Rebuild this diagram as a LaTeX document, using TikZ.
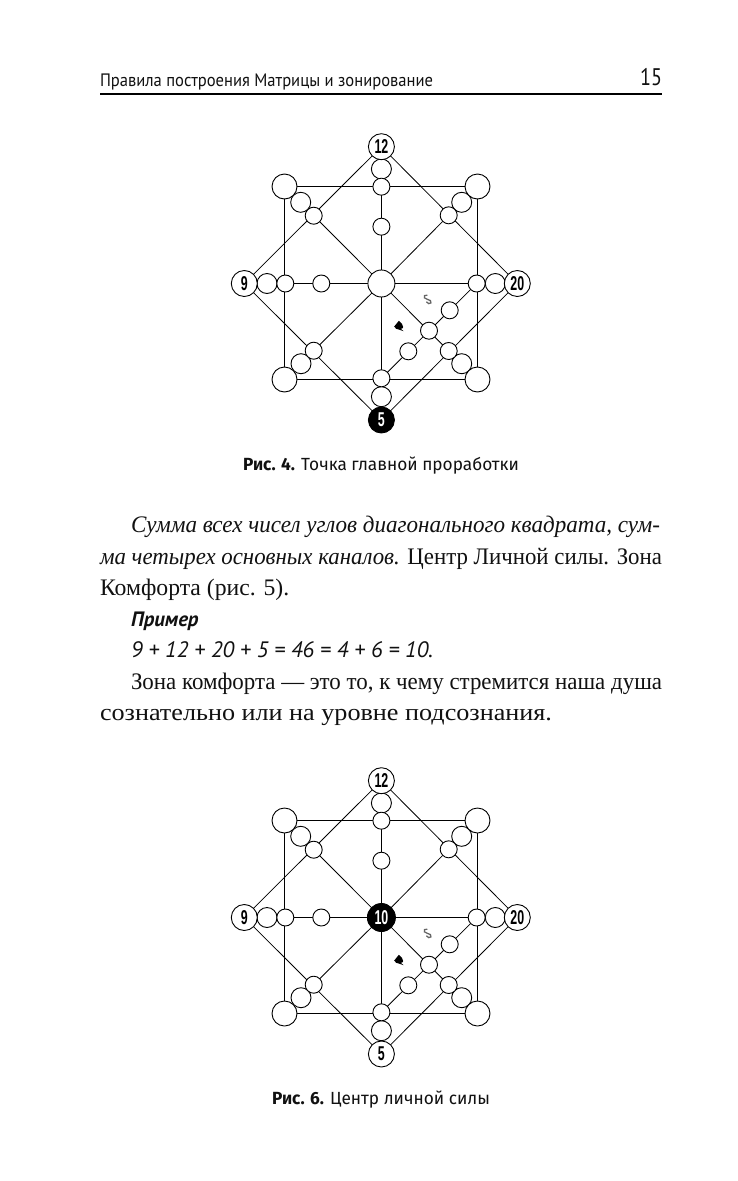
\documentclass[tikz,border=0pt]{standalone}
\usepackage{fontspec}
\setmainfont{Liberation Serif}
\newfontfamily\ptsans{PT Sans}
\newfontfamily\firasans{Fira Sans}
\newfontfamily\digitfont{Liberation Sans}
\usetikzlibrary{backgrounds}
\definecolor{inkc}{HTML}{111111}
\tikzset{
  txt/.style={anchor=base west,inner sep=0pt,outer sep=0pt,text=inkc},
  bodyt/.style={txt,font=\fontsize{23.7}{28}\selectfont},
  bodyi/.style={txt,font=\fontsize{23.7}{28}\selectfont\itshape},
  hdr/.style={txt,font=\ptsans\fontsize{18}{20}\selectfont},
  capt/.style={txt,font=\firasans\fontsize{17.6}{20}\selectfont},
  disc/.style={circle,draw=black,fill=white,line width=0.9pt,inner sep=0pt,outer sep=0pt},
  big/.style={disc,minimum size=26pt,font=\digitfont\bfseries\fontsize{20}{20}\selectfont},
  bigblack/.style={big,fill=black,text=white},
  corner/.style={disc,minimum size=25pt},
  hub/.style={disc,minimum size=27pt},
  mid/.style={disc,minimum size=20pt},
  small/.style={disc,minimum size=17pt},
  heavy/.style={line width=1.05pt,draw=black},
  thin/.style={line width=0.8pt,draw=black},
}
\newcommand{\cnum}[1]{\scalebox{0.62}[1]{#1}}
% #1 prefix, #2 vertical offset, #3 centre style, #4 centre label, #5 bottom style
\newcommand{\matrixfig}[5]{%
\begin{scope}[shift={(0,#2)}]
  \node[mid] (#1tA) at (381.4,169) {};
  \node[mid] (#1bA) at (381.4,396.7) {};
  \node[mid] (#1lA) at (267,283.5) {};
  \node[mid] (#1rA) at (495.3,283.5) {};
  \node[mid] (#1dA) at (300.7,202.3) {};
  \node[mid] (#1dB) at (461.7,202.3) {};
  \node[mid] (#1dC) at (301,363.7) {};
  \node[mid] (#1dD) at (461.7,363.7) {};
  \node[corner] (#1cA) at (284.5,186.5) {};
  \node[corner] (#1cB) at (477.5,186.5) {};
  \node[corner] (#1cC) at (284.5,379.5) {};
  \node[corner] (#1cD) at (477.5,379.5) {};
  \node[small] (#1tB) at (381.4,186.7) {};
  \node[small] (#1tC) at (381.4,226.7) {};
  \node[small] (#1bB) at (381.4,378.3) {};
  \node[small] (#1lB) at (285.3,283.5) {};
  \node[small] (#1lC) at (321.3,283.5) {};
  \node[small] (#1rB) at (476.7,283.5) {};
  \node[small] (#1eA) at (313.7,215.7) {};
  \node[small] (#1eB) at (448.7,215.3) {};
  \node[small] (#1eC) at (313.7,350.7) {};
  \node[small] (#1eD) at (448.7,351) {};
  \node[small] (#1iA) at (429,330.7) {};
  \node[small] (#1iB) at (449.7,310.3) {};
  \node[small] (#1iC) at (408.3,351.3) {};
  \node[big] (#1top) at (381.4,146.7) {\cnum{12}};
  \node[big] (#1lft) at (244.3,283.5) {\cnum{9}};
  \node[big] (#1rgt) at (517.3,283.5) {\cnum{20}};
  \node[#5] (#1bot) at (381.4,420) {\cnum{5}};
  \node[#3] (#1hub) at (381.4,283.5) {#4};
  \begin{pgfonlayer}{background}
    \draw[heavy] (#1cA) -- (#1cB) -- (#1cD) -- (#1cC) -- (#1cA);
    \draw[heavy] (#1tB) -- (#1hub) -- (#1bB);
    \draw[heavy] (#1lB) -- (#1hub) -- (#1rB);
    \draw[thin] (#1top) -- (#1lft) -- (#1bot) -- (#1rgt) -- (#1top);
    \draw[thin] (#1hub) -- (#1eA);
    \draw[thin] (#1hub) -- (#1eB);
    \draw[thin] (#1hub) -- (#1eC);
    \draw[thin] (#1hub) -- (#1eD);
    \draw[thin] (#1rB) -- (#1bB);
  \end{pgfonlayer}
  % small spade-like mark
  \fill[black] (394.2,326.5) .. controls (395,324) and (398,323.5) .. (398.8,320.8)
     .. controls (401,322.5) and (403.5,325) .. (403.2,327.2)
     .. controls (403,329) and (401,329) .. (400.4,328.4)
     -- (403.6,331.2) -- (399,329.6) .. controls (397.5,329) and (394.5,329) .. cycle;
  % small curl mark
  \draw[black!60,line width=1.3pt,line cap=round] (427,295.2) .. controls (425,294.6) and (423.4,296) .. (424.4,297.8)
     .. controls (425.4,299.4) and (429,299.2) .. (430.4,300.6)
     .. controls (432,302.2) and (430.6,304) .. (428.8,303.6)
     .. controls (427.8,303.4) and (427,302.8) .. (426.6,302);
\end{scope}}
\begin{document}
\begin{tikzpicture}[x=1pt,y=-1pt]
  \useasboundingbox (0,0) rectangle (738,1181);
  \begin{pgfonlayer}{background}
    \fill[white] (0,0) rectangle (738,1181);
  \end{pgfonlayer}
  % running head
  \node[hdr] (head) at (100,86) {\resizebox{333pt}{\height}{Правила построения Матрицы и зонирование}};
  \node[txt,anchor=base east,font=\ptsans\fontsize{24}{26}\selectfont] (page) at (662,85) {\resizebox{22pt}{\height}{15}};
  \coordinate (ruleL) at (100,94);
  \coordinate (ruleR) at (662,94);
  \draw[line width=2.2pt,black] (ruleL) -- (ruleR);
  % figures
  \matrixfig{a}{0}{hub}{}{bigblack}
  \matrixfig{b}{634}{big,minimum size=28pt,fill=black,text=white}{\cnum{10}}{big}
  % captions
  \node[capt] (capA) at (243,470) {\resizebox{276pt}{\height}{\textbf{Рис. 4.} Точка главной проработки}};
  \node[capt] (capB) at (272,1104) {\resizebox{218pt}{\height}{\textbf{Рис. 6.} Центр личной силы}};
  % body
  \node[bodyi] (l1) at (131,532.5) {\resizebox{529pt}{\height}{Сумма всех чисел углов диагонального квадрата, сум-}};
  \node[bodyt] (l2) at (100,564.5) {\resizebox{562pt}{\height}{\textit{ма четырех основных каналов.} Центр Личной силы. Зона}};
  \node[bodyt] (l3) at (100,595.5) {Комфорта (рис. 5).};
  \node[txt,font=\ptsans\fontsize{20.8}{22}\selectfont\bfseries\itshape] (l4) at (131,626) {Пример};
  \node[txt,font=\ptsans\fontsize{22.3}{24}\selectfont\itshape] (l5) at (131,657) {9 + 12 + 20 + 5 = 46 = 4 + 6 = 10.};
  \node[bodyt] (l6) at (131,689.5) {\resizebox{531pt}{\height}{Зона комфорта — это то, к чему стремится наша душа}};
  \node[bodyt] (l7) at (100,720.5) {\resizebox{452pt}{\height}{сознательно или на уровне подсознания.}};
\end{tikzpicture}
\end{document}
